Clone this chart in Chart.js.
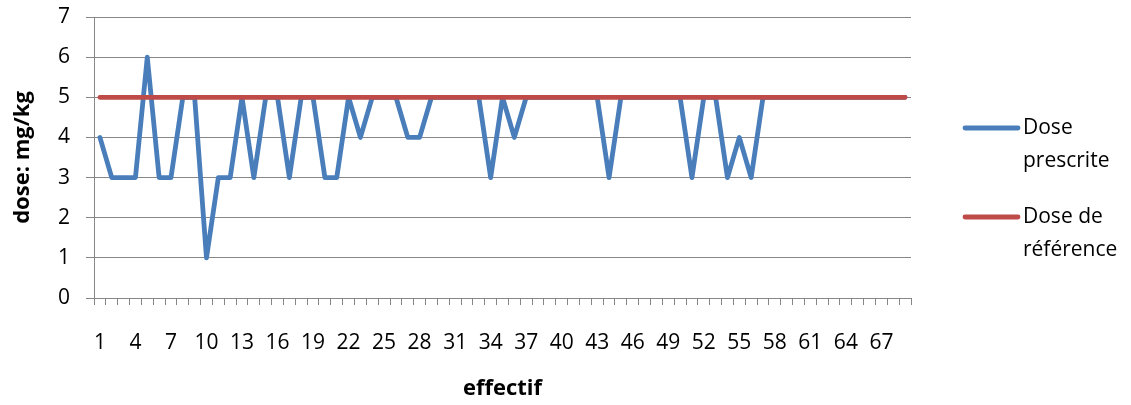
<!DOCTYPE html>
<html>
<head>
<meta charset="utf-8">
<script src="https://cdn.jsdelivr.net/npm/chart.js@4"></script>
<style>
  body { margin: 0; background: #fff; }
  canvas { display: block; }
</style>
</head>
<body>
<canvas id="myChart" width="1131" height="405"></canvas>
<script>
// effectif (patients 1..69)
const categories = [
  1, 2, 3, 4, 5, 6, 7, 8, 9, 10, 11, 12, 13, 14, 15, 16, 17, 18, 19, 20,
  21, 22, 23, 24, 25, 26, 27, 28, 29, 30, 31, 32, 33, 34, 35, 36, 37, 38, 39, 40,
  41, 42, 43, 44, 45, 46, 47, 48, 49, 50, 51, 52, 53, 54, 55, 56, 57, 58, 59, 60,
  61, 62, 63, 64, 65, 66, 67, 68, 69,
];

// dose in mg/kg
const dosePrescrite = [
  4, 3, 3, 3, 6, 3, 3, 5, 5, 1, 3, 3, 5, 3, 5, 5, 3, 5, 5, 3,
  3, 5, 4, 5, 5, 5, 4, 4, 5, 5, 5, 5, 5, 3, 5, 4, 5, 5, 5, 5,
  5, 5, 5, 3, 5, 5, 5, 5, 5, 5, 3, 5, 5, 3, 4, 3, 5, 5, 5, 5,
  5, 5, 5, 5, 5, 5, 5, 5, 5,
];

const doseReference = [
  5, 5, 5, 5, 5, 5, 5, 5, 5, 5, 5, 5, 5, 5, 5, 5, 5, 5, 5, 5,
  5, 5, 5, 5, 5, 5, 5, 5, 5, 5, 5, 5, 5, 5, 5, 5, 5, 5, 5, 5,
  5, 5, 5, 5, 5, 5, 5, 5, 5, 5, 5, 5, 5, 5, 5, 5, 5, 5, 5, 5,
  5, 5, 5, 5, 5, 5, 5, 5, 5,
];

const yTicks = [0, 1, 2, 3, 4, 5, 6, 7];

const FONT = "'Open Sans', 'DejaVu Sans', sans-serif";
const GREY = "#878787";

// legend on the right, each label wrapped onto two lines
const sideLegend = {
  id: "sideLegend",
  afterDraw(chart, args, opts) {
    const ctx = chart.ctx;
    ctx.save();
    ctx.font = `${opts.fontSize}px ${FONT}`;
    ctx.textBaseline = "middle";
    ctx.fillStyle = "#000";
    chart.data.datasets.forEach((ds, i) => {
      const y = opts.top + i * opts.itemGap;
      ctx.strokeStyle = ds.borderColor;
      ctx.lineWidth = ds.borderWidth;
      ctx.lineCap = "round";
      ctx.beginPath();
      ctx.moveTo(opts.left, y);
      ctx.lineTo(opts.left + opts.sampleWidth, y);
      ctx.stroke();

      // simple word wrap
      const words = ds.label.split(" ");
      const lines = [];
      let cur = "";
      words.forEach((w) => {
        const test = cur ? cur + " " + w : w;
        if (cur && ctx.measureText(test).width > opts.maxWidth) {
          lines.push(cur);
          cur = w;
        } else {
          cur = test;
        }
      });
      lines.push(cur);
      lines.forEach((line, j) => {
        ctx.fillText(line, opts.left + opts.sampleWidth + 5, y + j * opts.lineGap);
      });
    });
    ctx.restore();
  },
};

const data = {
  labels: categories,
  datasets: [
    {
      label: "Dose prescrite",
      data: dosePrescrite,
      borderColor: "#4A7EBB",
      backgroundColor: "#4A7EBB",
      borderWidth: 4.8,
      pointRadius: 0,
      tension: 0,
      borderJoinStyle: "round",
      borderCapStyle: "round",
      order: 2,
    },
    {
      label: "Dose de référence",
      data: doseReference,
      borderColor: "#BE4B48",
      backgroundColor: "#BE4B48",
      borderWidth: 4.8,
      pointRadius: 0,
      tension: 0,
      borderCapStyle: "round",
      order: 1,
    },
  ],
};

const config = {
  type: "line",
  data,
  plugins: [sideLegend],
  options: {
    responsive: false,
    animation: false,
    layout: { padding: { top: 17, right: 220, left: 0, bottom: 0 } },
    plugins: {
      legend: { display: false },
      tooltip: { enabled: false },
      sideLegend: {
        left: 965,
        top: 128,
        sampleWidth: 53,
        itemGap: 89,
        lineGap: 33,
        maxWidth: 110,
        fontSize: 21,
      },
    },
    scales: {
      x: {
        type: "category",
        offset: true,
        afterFit: (scale) => {
          scale.height = 107;
          scale.paddingLeft = 0;
          scale.paddingRight = 0;
        },
        grid: {
          offset: true,
          drawOnChartArea: false,
          drawTicks: true,
          tickLength: 7,
          color: GREY,
        },
        border: { color: GREY, width: 1 },
        ticks: {
          autoSkip: false,
          maxRotation: 0,
          padding: 25,
          color: "#000",
          font: { family: FONT, size: 21 },
          // label every third patient
          callback: (val, i) => (i % 3 === 0 ? categories[i] : ""),
        },
        title: {
          display: true,
          text: "effectif",
          color: "#000",
          font: { family: FONT, size: 22, weight: "bold" },
          padding: { top: 0, bottom: 3 },
        },
      },
      y: {
        min: 0,
        max: 7,
        afterFit: (scale) => {
          scale.width = 94;
          scale.paddingTop = 0;
          scale.paddingBottom = 0;
        },
        afterBuildTicks: (scale) => { scale.ticks = yTicks.map((v) => ({ value: v })); },
        grid: { color: GREY, tickLength: 8 },
        border: { color: GREY, width: 1 },
        ticks: {
          padding: 16,
          color: "#000",
          font: { family: FONT, size: 21 },
        },
        title: {
          display: true,
          text: "dose: mg/kg",
          color: "#000",
          font: { family: FONT, size: 22, weight: "bold" },
          padding: { top: 10, bottom: 0 },
        },
      },
    },
  },
};

const myChart = new Chart(document.getElementById("myChart"), config);
</script>
</body>
</html>
